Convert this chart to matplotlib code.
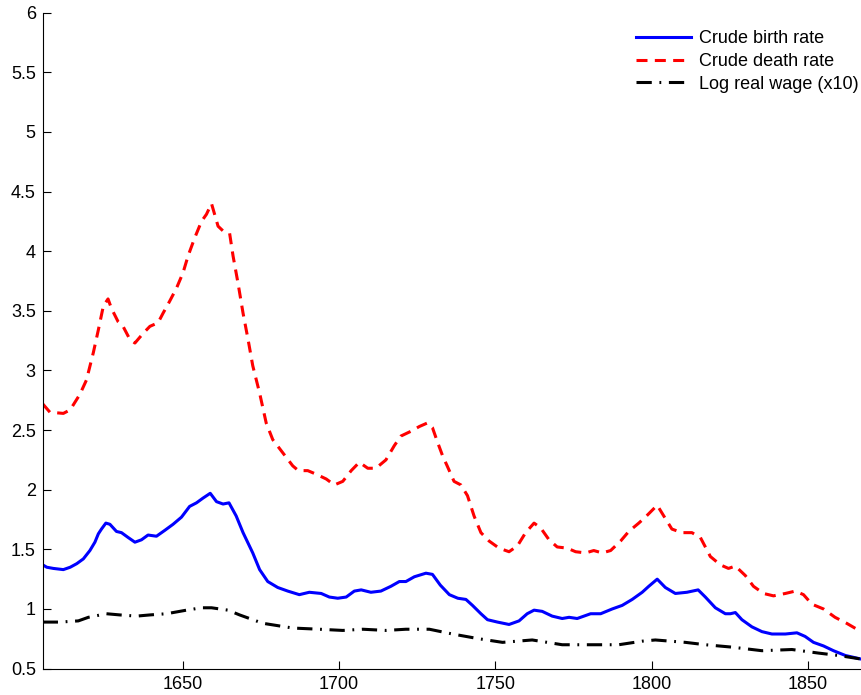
import matplotlib
matplotlib.use('Agg')
import matplotlib.pyplot as plt
from matplotlib.ticker import FormatStrFormatter

plt.rcParams['font.family'] = ['Liberation Sans', 'DejaVu Sans']

# Crude birth rate
birth_years = [1605.2, 1606.5, 1608.6, 1611.8, 1614, 1616.1, 1618.2, 1620.3, 1621.9, 1623,
               1624, 1625.4, 1626.7, 1628.8, 1630.4, 1632.5, 1634.7, 1636.8, 1638.9, 1641.6,
               1644.3, 1646.9, 1649.6, 1652.2, 1654.4, 1656.5, 1658.8, 1660.8, 1662.9, 1664.8,
               1667.1, 1669.3, 1672.4, 1674.6, 1677.2, 1680.4, 1683.6, 1687.3, 1690.5, 1694.3,
               1696.9, 1699.6, 1702.3, 1704.9, 1707.1, 1710.2, 1713.4, 1716.6, 1719.3, 1721.4,
               1724.1, 1727.8, 1729.9, 1732.4, 1735.3, 1738, 1740.6, 1742.7, 1745.4, 1747.5,
               1750.7, 1754.4, 1757.6, 1760.2, 1762.4, 1765, 1768.2, 1771.4, 1773.6, 1776.2,
               1780.5, 1783.7, 1787.4, 1790.6, 1793.8, 1797, 1799.1, 1801.8, 1804.4, 1807.6,
               1811.3, 1814.9, 1817.2, 1820.4, 1823.6, 1825.2, 1826.8, 1828.9, 1832.1, 1835.3,
               1838.5, 1842.8, 1846.5, 1849.1, 1851.8, 1855, 1858.2, 1862, 1867]
birth_rate = [1.37, 1.35, 1.34, 1.33, 1.35, 1.38, 1.42, 1.49, 1.56, 1.63,
              1.67, 1.72, 1.71, 1.65, 1.64, 1.60, 1.56, 1.58, 1.62, 1.61,
              1.66, 1.71, 1.77, 1.86, 1.89, 1.93, 1.97, 1.90, 1.88, 1.89,
              1.78, 1.64, 1.47, 1.33, 1.23, 1.18, 1.15, 1.12, 1.14, 1.13,
              1.10, 1.09, 1.10, 1.15, 1.16, 1.14, 1.15, 1.19, 1.23, 1.23,
              1.27, 1.30, 1.29, 1.20, 1.12, 1.09, 1.08, 1.03, 0.96, 0.91,
              0.89, 0.87, 0.90, 0.96, 0.99, 0.98, 0.94, 0.92, 0.93, 0.92,
              0.96, 0.96, 1.00, 1.03, 1.08, 1.14, 1.19, 1.25, 1.18, 1.13,
              1.14, 1.16, 1.10, 1.01, 0.96, 0.96, 0.97, 0.91, 0.85, 0.81,
              0.79, 0.79, 0.80, 0.77, 0.72, 0.69, 0.65, 0.61, 0.58]

# Crude death rate
death_years = [1605.2, 1607.5, 1611.8, 1614, 1617.1, 1619.2, 1621.4, 1623, 1624.6, 1626.1,
               1627.2, 1629.3, 1630.9, 1633.1, 1634.7, 1637.3, 1639.5, 1642.1, 1643.7, 1645.8,
               1648, 1650.1, 1651.7, 1653.8, 1656, 1657.6, 1659.2, 1661.3, 1662.9, 1665,
               1666.1, 1667.7, 1669.3, 1670.9, 1672.4, 1674.6, 1676.7, 1678.8, 1682, 1685.2,
               1687, 1690, 1692.7, 1695.9, 1698.5, 1701.2, 1703.9, 1706.5, 1709.2, 1711.8,
               1715, 1717.7, 1719.8, 1723, 1725.7, 1728.3, 1729.9, 1731.5, 1733.2, 1734.6,
               1736.8, 1739, 1741.1, 1743.2, 1745.4, 1748, 1751.2, 1754.4, 1757.1, 1759.7,
               1762.4, 1764.5, 1767.2, 1769.8, 1773, 1775.7, 1778.9, 1781.5, 1784.2, 1786.9,
               1790.1, 1792.7, 1795.9, 1798, 1801.8, 1803.9, 1806.5, 1809.7, 1812.9, 1815.6,
               1818.8, 1822, 1824.6, 1826.8, 1830, 1832.6, 1835.8, 1839, 1842.8, 1846,
               1848.6, 1851.3, 1855, 1858.7, 1862.4, 1867]
death_rate = [2.72, 2.65, 2.64, 2.67, 2.80, 2.92, 3.15, 3.34, 3.54, 3.60,
              3.52, 3.41, 3.37, 3.26, 3.23, 3.31, 3.37, 3.40, 3.48, 3.58,
              3.69, 3.82, 3.96, 4.11, 4.25, 4.31, 4.40, 4.21, 4.17, 4.15,
              3.96, 3.73, 3.48, 3.26, 3.04, 2.81, 2.56, 2.42, 2.31, 2.20,
              2.16, 2.16, 2.13, 2.09, 2.04, 2.07, 2.16, 2.23, 2.18, 2.18,
              2.25, 2.37, 2.45, 2.49, 2.53, 2.56, 2.52, 2.40, 2.28, 2.20,
              2.07, 2.04, 1.95, 1.78, 1.64, 1.57, 1.51, 1.48, 1.53, 1.64,
              1.72, 1.68, 1.58, 1.52, 1.51, 1.48, 1.47, 1.49, 1.47, 1.49,
              1.57, 1.65, 1.72, 1.77, 1.87, 1.78, 1.67, 1.64, 1.64, 1.60,
              1.44, 1.37, 1.34, 1.36, 1.28, 1.19, 1.13, 1.11, 1.13, 1.15,
              1.12, 1.04, 1.00, 0.93, 0.88, 0.81]

# Log real wage (x10)
wage_years = [1605.2, 1610.7, 1616.6, 1619.8, 1625.6, 1629.9, 1635.2, 1639.5, 1644.8, 1651.2,
              1656, 1659.2, 1664.5, 1668.2, 1675.6, 1685.2, 1693.7, 1701.2, 1707.6, 1715,
              1721.4, 1728.9, 1736.3, 1744.8, 1752.3, 1761.8, 1771.4, 1782, 1789.5, 1797,
              1801.2, 1810.8, 1817.2, 1825.7, 1835.3, 1844.9, 1853.4, 1859.8, 1867]
log_wage = [0.89, 0.89, 0.90, 0.93, 0.96, 0.95, 0.94, 0.95, 0.96, 0.99,
            1.01, 1.01, 0.99, 0.95, 0.88, 0.84, 0.83, 0.82, 0.83, 0.82,
            0.83, 0.83, 0.79, 0.75, 0.72, 0.74, 0.70, 0.70, 0.70, 0.73,
            0.74, 0.72, 0.70, 0.68, 0.65, 0.66, 0.63, 0.61, 0.58]

fig = plt.figure(figsize=(8.61, 6.95), dpi=100)
ax = fig.add_axes([0.0496, 0.038, 0.9504, 0.9437])

ax.plot(birth_years, birth_rate, color='#0000ff', linewidth=2.2, label='Crude birth rate')
ax.plot(death_years, death_rate, color='#ff0000', linewidth=2.2, linestyle=(0, (3.6, 2.4)),
        label='Crude death rate')
ax.plot(wage_years, log_wage, color='black', linewidth=2.2, linestyle=(0, (5, 2.5, 0.6, 2.5)),
        label='Log real wage (x10)')

ax.set_xlim(1605.2, 1867)
ax.set_ylim(0.5, 6)
ax.set_xticks([1650, 1700, 1750, 1800, 1850])
ax.set_yticks([0.5, 1, 1.5, 2, 2.5, 3, 3.5, 4, 4.5, 5, 5.5, 6])
ax.yaxis.set_major_formatter(FormatStrFormatter('%g'))
ax.tick_params(direction='in', length=6, width=0.8, labelsize=13, pad=5, colors='black')
ax.tick_params(axis='x', pad=5)
ax.spines['top'].set_visible(False)
ax.spines['right'].set_visible(False)

ax.legend(loc='upper right', bbox_to_anchor=(1.01, 0.99), frameon=False, fontsize=13,
          handlelength=3.0, handletextpad=0.45, labelspacing=0.32, borderaxespad=0.2)

plt.savefig('out.png', dpi=100)
